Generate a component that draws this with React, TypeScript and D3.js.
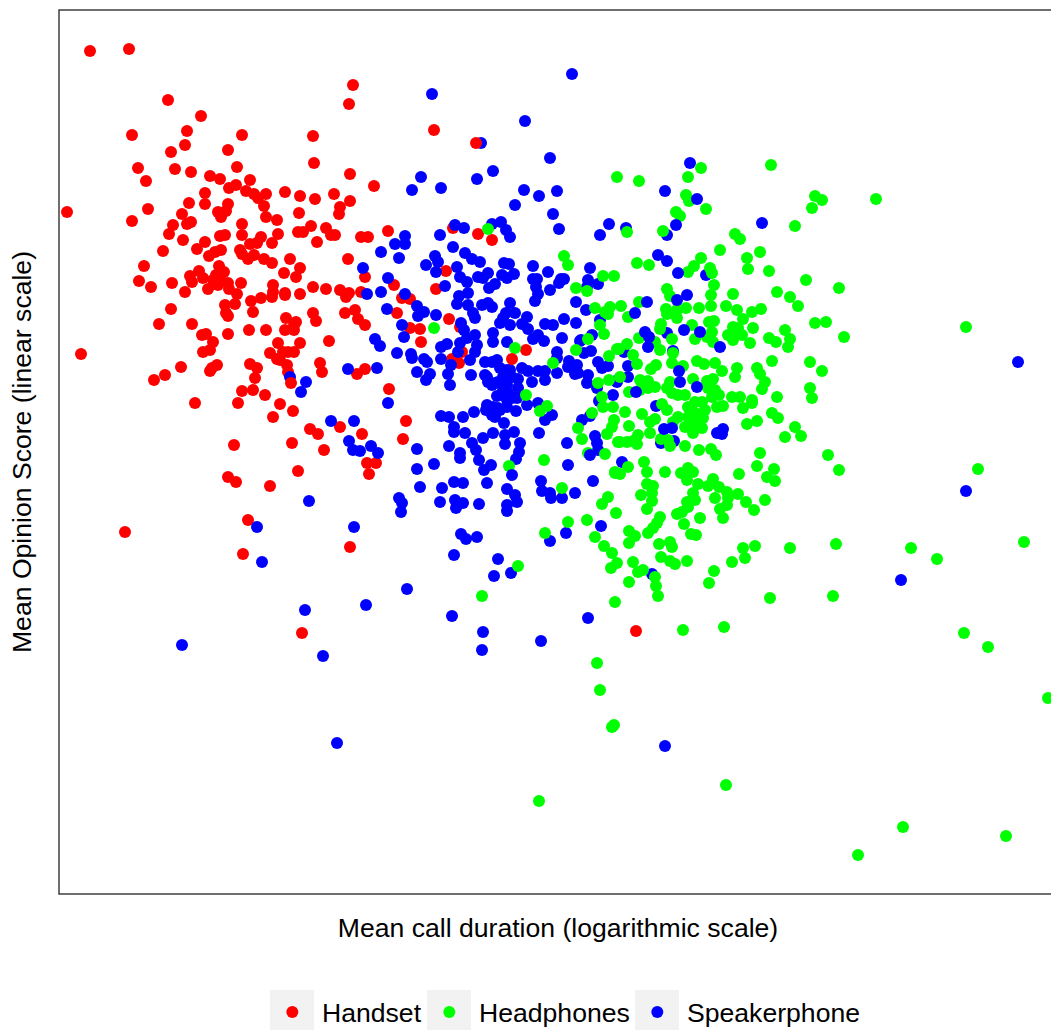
import React, { useEffect, useRef } from 'react'
import * as d3 from 'd3'

type Pt = [number, number]

// [mean call duration, mean opinion score], both in relative units (axes have no ticks)
const handsetPoints: Pt[] = [
  [40,849],[79,851],[303,815],[299,796],[118,800],[151,784],[82,765],[137,769],[135,755],[121,748],
  [192,765],[178,750],[263,764],[264,737],[88,732],[125,731],[141,728],[187,733],[96,719],[160,724],
  [170,721],[200,720],[300,726],[324,714],[186,715],[179,712],[196,709],[204,706],[216,706],[155,707],
  [235,708],[250,704],[265,701],[284,706],[300,699],[208,702],[214,694],[139,697],[155,696],[178,696],
  [176,689],[168,688],[171,683],[98,691],[17,688],[82,679],[132,686],[141,678],[137,676],[123,675],
  [119,666],[133,660],[216,683],[227,680],[249,687],[290,693],[289,686],[192,676],[192,665],[170,664],
  [175,665],[248,668],[253,668],[261,674],[276,672],[281,665],[285,665],[228,666],[211,663],[207,657],
  [200,656],[222,657],[267,658],[311,663],[318,663],[338,669],[155,658],[147,651],[113,649],[171,650],
  [165,648],[159,644],[190,650],[192,646],[204,645],[198,641],[214,641],[222,637],[240,641],[298,641],
  [94,634],[169,634],[174,628],[149,629],[250,632],[234,627],[246,623],[140,624],[153,622],[142,618],
  [166,625],[170,622],[163,620],[315,623],[89,619],[101,613],[122,617],[135,608],[158,611],[168,615],
  [178,617],[179,611],[191,617],[187,606],[223,615],[223,608],[222,603],[235,607],[235,605],[250,606],
  [263,613],[276,611],[290,610],[299,607],[296,603],[311,608],[211,602],[201,599],[185,596],[175,595],
  [121,591],[176,587],[178,584],[203,588],[263,587],[295,587],[305,590],[266,579],[308,581],[315,575],
  [109,576],[142,576],[152,565],[156,566],[178,566],[199,570],[216,570],[236,582],[246,578],[244,575],
  [235,570],[244,570],[163,558],[228,557],[250,557],[279,559],[160,550],[153,548],[220,547],[233,548],
  [238,548],[244,548],[230,540],[227,541],[270,537],[31,546],[131,533],[167,535],[162,532],[160,529],
  [115,525],[104,520],[200,536],[207,532],[237,535],[238,528],[272,528],[205,522],[192,509],[203,510],
  [215,505],[188,497],[230,496],[243,489],[223,483],[145,497],[315,531],[307,526],[339,511],[260,471],
  [268,466],[290,473],[312,466],[184,455],[242,457],[274,450],[317,437],[326,437],[319,426],[248,429],
  [178,423],[186,418],[220,414],[198,380],[75,368],[193,346],[300,353],[586,269],[252,267],
  [384,770],[403,672],[428,666],[442,660],[396,629],[386,611],[344,615],[352,602],[360,601],[347,587],
  [399,581],[360,572],[370,571],[371,558],[476,550],[412,548],[402,541],[409,537],[356,479],[353,461],[410,573],
]

const handsetOnTop: Pt[] = [[426,757],[241,517],[462,541]]

const speakerphonePoints: Pt[] = [
  [325,561],[330,554],[298,531],[327,532],[240,523],[256,518],[251,508],[338,497],[281,479],[304,479],
  [299,459],[303,450],[310,449],[321,454],[328,447],[259,399],[207,373],[304,373],[212,338],[331,648],
  [313,632],[338,622],[317,606],[331,608],[337,591],[522,826],[382,806],[475,779],[431,757],[500,742],
  [443,729],[427,721],[371,723],[362,710],[391,712],[474,710],[489,704],[507,709],[465,695],[503,686],
  [509,671],[559,676],[550,665],[405,675],[414,672],[390,665],[442,676],[451,678],[456,670],[460,663],
  [355,664],[345,656],[355,656],[349,642],[403,653],[385,644],[388,638],[376,635],[386,628],[415,647],
  [422,641],[430,638],[407,633],[454,637],[459,636],[483,634],[498,628],[540,632],[483,621],[487,621],
  [486,613],[488,606],[485,599],[464,626],[452,625],[457,622],[438,627],[428,623],[433,622],[410,623],
  [417,618],[445,616],[439,612],[500,610],[514,621],[511,621],[509,617],[538,620],[548,616],[537,613],
  [526,598],[536,590],[395,614],[355,606],[367,594],[374,588],[368,584],[386,585],[409,604],[418,607],
  [407,596],[418,595],[423,587],[425,582],[432,595],[438,597],[442,593],[460,597],[456,587],[465,587],
  [453,582],[477,583],[514,581],[550,580],[352,575],[354,563],[347,547],[361,546],[362,542],[374,541],
  [377,538],[391,541],[367,528],[380,526],[376,520],[391,553],[397,556],[411,577],[414,570],[425,565],
  [410,557],[417,562],[427,555],[425,548],[420,540],[408,548],[401,535],[398,526],[400,515],[421,525],
  [435,538],[442,538],[447,540],[435,525],[438,518],[442,515],[450,532],[457,530],[462,523],[468,521],
  [448,518],[457,515],[458,507],[462,502],[467,502],[447,504],[443,493],[437,495],[436,490],[442,485],
  [445,483],[450,490],[457,493],[466,489],[477,495],[424,488],[413,483],[391,484],[399,483],[404,473],
  [404,468],[415,467],[433,462],[443,467],[454,477],[455,465],[464,468],[455,456],[470,457],[469,448],
  [466,441],[422,457],[426,450],[429,440],[399,454],[410,447],[410,442],[384,436],[367,451],[367,431],
  [441,435],[434,430],[370,413],[392,412],[404,418],[413,417],[437,417],[390,398],[405,400],[413,397],
  [406,392],[429,396],[349,402],[352,397],[351,388],[457,411],[465,405],[467,398],[457,395],[457,389],
  [411,366],[416,361],[427,363],[404,345],[448,341],[444,324],[461,327],[357,311],[316,295],[450,577],
  [460,575],[443,567],[457,558],[443,558],[472,576],[478,571],[488,565],[483,561],[494,559],[495,576],
  [503,575],[526,577],[512,562],[507,548],[507,542],[530,559],[542,565],[534,547],[541,549],[548,538],
  [552,532],[519,539],[518,533],[527,535],[528,527],[507,527],[472,532],[478,529],[488,529],[495,529],
  [482,518],[495,520],[538,525],[537,517],[547,512],[566,519],[563,505],[549,499],[488,497],[532,480],
  [540,484],[502,485],[495,480],[489,467],[517,457],[545,464],[547,457],[548,450],[518,435],[543,419],
  [491,419],[492,409],[500,407],[501,402],[512,402],[525,407],[551,374],[516,367],[500,359],[640,737],
  [615,709],[617,665],[576,672],[712,677],[608,645],[617,639],[656,625],[617,567],[623,549],[574,548],
  [531,560],[558,534],[523,532],[525,526],[567,518],[578,523],[578,534],[606,494],[624,459],[611,457],
  [572,438],[602,326],[667,467],[673,471],[672,466],[968,538],[916,409],[851,320],[615,154],[287,157],
  [132,255],[273,244],[255,290],[402,284],[433,268],[432,250],[491,259],[538,282],
  [445,517],[453,523],[453,510],[457,500],[448,492],[460,530],[437,523],[468,512],
]

// plotted after the green ones, so they sit over them
const speakerphoneOnTop: Pt[] = [
  [647,701],[626,675],[670,553],[647,513],[586,508],[597,598],[585,587],[629,529],[630,518],[634,570],
  [650,568],[628,627],[627,600],[637,605],[595,568],[599,563],[598,553],[614,471],[622,472],[540,445],[462,425],
]

const headphonesPoints: Pt[] = [
  [438,671],[514,644],[518,635],[567,723],[553,624],[564,624],[526,612],[537,609],[545,592],[560,593],
  [555,588],[558,586],[571,594],[384,572],[538,561],[526,550],[559,544],[503,537],[465,552],[476,505],
  [497,494],[490,489],[548,517],[559,520],[552,503],[553,493],[563,493],[542,487],[564,480],[562,473],
  [557,466],[528,472],[532,461],[568,458],[538,447],[555,446],[494,440],[459,434],[565,427],[512,412],
  [558,403],[552,396],[566,387],[537,380],[518,378],[495,367],[545,363],[554,354],[562,347],[561,332],
  [567,337],[468,334],[432,304],[565,298],[550,575],[554,566],[567,551],[651,732],[638,723],[589,719],
  [721,735],[636,705],[639,699],[656,691],[765,704],[772,700],[762,692],[826,701],[626,688],[630,684],
  [745,674],[613,669],[577,668],[685,666],[690,661],[670,650],[710,648],[697,642],[651,642],[644,634],
  [638,628],[587,637],[599,635],[660,632],[662,627],[698,631],[719,629],[756,620],[789,612],[664,615],
  [617,611],[620,604],[661,605],[683,606],[727,608],[740,603],[748,594],[589,598],[578,583],[616,591],
  [617,586],[627,582],[627,590],[636,592],[649,592],[661,594],[676,594],[687,590],[702,588],[711,591],
  [693,581],[659,578],[664,579],[642,575],[611,576],[610,571],[662,568],[657,563],[663,558],[645,561],
  [622,561],[589,562],[703,572],[683,573],[688,572],[678,565],[683,560],[692,565],[687,568],[700,557],
  [719,562],[726,558],[735,570],[740,561],[738,553],[765,577],[776,578],[794,563],[577,556],[569,551],
  [605,558],[610,550],[583,545],[587,536],[623,547],[622,537],[633,534],[606,535],[601,531],[647,539],
  [654,536],[665,537],[672,529],[687,532],[685,523],[707,532],[710,526],[715,518],[712,511],[722,539],
  [760,538],[772,529],[760,512],[762,502],[727,503],[570,523],[590,520],[598,519],[605,513],[598,512],
  [590,510],[579,508],[620,518],[617,512],[622,507],[628,505],[635,505],[643,521],[657,519],[663,521],
  [658,512],[665,510],[669,505],[662,503],[682,503],[690,503],[702,500],[575,488],[592,486],[579,474],
  [600,467],[605,481],[600,478],[612,496],[617,490],[628,483],[623,478],[588,465],[583,459],[577,458],
  [570,458],[587,456],[611,461],[618,460],[620,454],[635,454],[649,450],[661,451],[666,445],[638,493],
  [645,498],[652,498],[655,490],[638,483],[645,487],[653,482],[642,477],[648,477],[635,473],[643,467],
  [652,472],[667,493],[673,494],[693,492],[702,497],[722,487],[728,482],[697,476],[707,479],[745,473],
  [735,463],[751,464],[710,447],[778,445],[789,430],[707,434],[724,431],[717,423],[725,419],[689,426],
  [594,438],[597,428],[615,428],[578,433],[565,428],[570,426],[631,427],[638,432],[643,428],[637,420],
  [648,416],[643,407],[645,400],[663,421],[658,414],[669,413],[677,408],[678,402],[688,406],[696,398],
  [704,390],[715,400],[665,402],[677,395],[670,391],[673,382],[597,416],[603,414],[602,407],[602,399],
  [597,391],[591,405],[637,398],[638,393],[632,388],[627,386],[650,382],[634,376],[641,366],[646,365],
  [610,383],[607,377],[603,372],[598,367],[579,369],[585,364],[579,357],[609,356],[620,358],[622,353],
  [611,343],[620,339],[625,336],[637,339],[583,338],[593,330],[588,328],[579,318],[605,323],[606,314],
  [608,304],[664,329],[659,317],[682,338],[695,342],[693,352],[705,354],[740,352],[786,356],[720,302],
  [783,304],[916,573],[928,431],[974,358],[861,352],[887,341],[914,267],[938,253],[998,202],[633,270],
  [674,273],[547,237],[550,210],[564,175],[562,173],[489,99],[676,115],[853,73],[808,45],[956,64],
]

const legendLabels = ['Handset', 'Headphones', 'Speakerphone']
const legendColors = ['#ff0000', '#00ff00', '#0000ff']
const legendKeyLefts = [270, 427, 635]

const durationDomain: [number, number] = [9, 1001]
const scoreDomain: [number, number] = [6, 890]

const width = 1051
const height = 1030
const margin = { top: 10, right: 0, bottom: 136, left: 59 }
const font = '"Liberation Sans", Arial, sans-serif'
const fontSize = 26.6

export default function App() {
  const ref = useRef<SVGSVGElement>(null)

  useEffect(() => {
    const svg = d3.select(ref.current)
    svg.selectAll('*').remove()

    const x = d3.scaleLinear().domain(durationDomain).range([margin.left, width - margin.right])
    const y = d3.scaleLinear().domain(scoreDomain).range([height - margin.bottom, margin.top])

    // points are drawn in layers because the source plots them mixed together
    const layers: [Pt[], string][] = [
      [handsetPoints, legendColors[0]],
      [speakerphonePoints, legendColors[2]],
      [headphonesPoints, legendColors[1]],
      [speakerphoneOnTop, legendColors[2]],
      [handsetOnTop, legendColors[0]],
    ]
    layers.forEach(([points, color]) => {
      svg.append('g')
        .selectAll('circle')
        .data(points)
        .enter()
        .append('circle')
        .attr('cx', d => x(d[0]))
        .attr('cy', d => y(d[1]))
        .attr('r', 6)
        .attr('fill', color)
    })

    // panel border
    svg.append('rect')
      .attr('x', margin.left)
      .attr('y', margin.top)
      .attr('width', width - margin.left + 2)
      .attr('height', height - margin.top - margin.bottom)
      .attr('fill', 'none')
      .attr('stroke', '#222')
      .attr('stroke-width', 1.3)

    svg.append('text')
      .attr('x', 558)
      .attr('y', 937)
      .attr('text-anchor', 'middle')
      .attr('font-family', font)
      .attr('font-size', fontSize)
      .attr('fill', '#000')
      .text('Mean call duration (logarithmic scale)')

    svg.append('text')
      .attr('transform', 'translate(31,452) rotate(-90)')
      .attr('text-anchor', 'middle')
      .attr('font-family', font)
      .attr('font-size', fontSize)
      .attr('fill', '#000')
      .text('Mean Opinion Score (linear scale)')

    // legend
    const key = svg.append('g')
      .selectAll('g')
      .data(legendLabels)
      .enter()
      .append('g')
      .attr('transform', (d, i) => 'translate(' + legendKeyLefts[i] + ',990)')
    key.append('rect')
      .attr('width', 44)
      .attr('height', 40)
      .attr('fill', '#f2f2f2')
    key.append('circle')
      .attr('cx', 22.3)
      .attr('cy', 22)
      .attr('r', 6)
      .attr('fill', (d, i) => legendColors[i])
    key.append('text')
      .attr('x', 52)
      .attr('y', 32)
      .attr('font-family', font)
      .attr('font-size', fontSize)
      .attr('fill', '#000')
      .text(d => d)
  }, [])

  return (
    <svg
      ref={ref}
      width={width}
      height={height}
      style={{ position: 'absolute', left: 0, top: 0, display: 'block', background: '#fff' }}
    />
  )
}
